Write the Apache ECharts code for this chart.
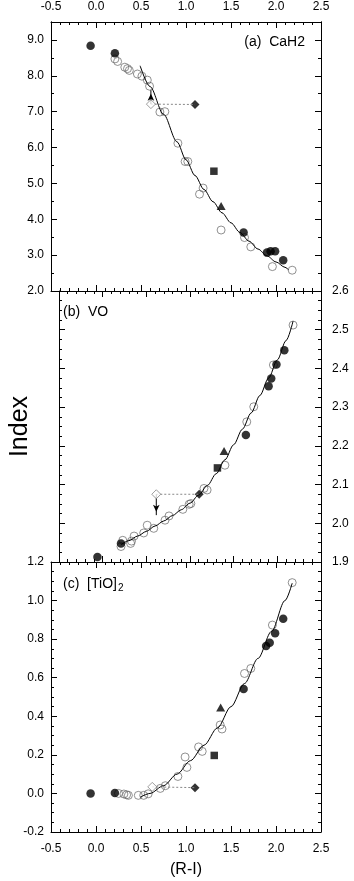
<!DOCTYPE html>
<html><head><meta charset="utf-8">
<script src="https://cdn.jsdelivr.net/npm/echarts@6/dist/echarts.min.js"></script>
<style>html,body{margin:0;padding:0;background:#fff}#c{width:354px;height:881px}</style>
</head><body><div id="c"></div>
<script>
// ---------- axis ranges / tick steps ----------
const xRange = [-0.5, 2.5];
const xStep = 0.5;
const aRange = [2.0, 9.5];
const aStep = 1.0;
const bRange = [1.9, 2.6];
const bStep = 0.1;
const cRange = [-0.2, 1.2];
const cStep = 0.2;

// ---------- panel (a) CaH2 ----------
const aFilledCircles = [[-0.06,8.84],[0.21,8.63],[1.64,3.63],[1.90,3.07],[1.94,3.11],[1.99,3.11],[2.08,2.86]];
const aOpenCircles = [[0.21,8.47],[0.24,8.40],[0.32,8.24],[0.35,8.20],[0.37,8.15],[0.46,8.05],[0.51,7.99],[0.57,7.88],[0.595,7.71],[0.71,6.99],[0.765,7.00],[0.91,6.12],[0.99,5.61],[1.02,5.61],[1.19,4.87],[1.15,4.70],[1.39,3.70],[1.65,3.49],[1.72,3.23],[1.96,2.68],[2.18,2.58]];
const aSquare = [[1.31,5.34]];
const aTriangle = [[1.39,4.37]];
const aFilledDiamond = [[1.10,7.20]];
const aOpenDiamond = [[0.61,7.21]];
const aArrowTip = [[0.61,7.60]];
const aCurve = [[0.49,8.28],[0.6,7.70],[0.75,6.93],[0.9,6.16],[1.0,5.66],[1.1,5.22],[1.2,4.83],[1.3,4.49],[1.4,4.18],[1.5,3.90],[1.6,3.63],[1.7,3.39],[1.8,3.17],[1.9,2.98],[2.0,2.81],[2.1,2.66],[2.14,2.59]];

// ---------- panel (b) VO ----------
const bFilledCircles = [[-0.06,1.913],[0.21,1.948],[1.64,2.228],[1.90,2.354],[1.93,2.374],[1.99,2.410],[2.08,2.447]];
const bOpenCircles = [[0.21,1.940],[0.23,1.956],[0.32,1.948],[0.33,1.954],[0.36,1.967],[0.47,1.975],[0.51,1.995],[0.585,1.987],[0.714,2.008],[0.76,2.019],[0.918,2.036],[0.99,2.049],[1.01,2.051],[1.16,2.090],[1.196,2.086],[1.40,2.150],[1.65,2.262],[1.73,2.301],[1.955,2.409],[2.18,2.512]];
const bSquare = [[1.314,2.143]];
const bTriangle = [[1.39,2.187]];
const bFilledDiamond = [[1.105,2.075]];
const bOpenDiamond = [[0.614,2.075]];
const bArrowTip = [[0.614,2.021]];
const bCurve = [[0.21,1.945],[0.3,1.955],[0.4,1.967],[0.5,1.979],[0.6,1.993],[0.7,2.006],[0.8,2.020],[0.9,2.035],[1.0,2.052],[1.1,2.073],[1.2,2.098],[1.3,2.128],[1.4,2.164],[1.5,2.203],[1.6,2.243],[1.7,2.285],[1.8,2.330],[1.9,2.375],[2.0,2.422],[2.1,2.472],[2.18,2.522]];

// ---------- panel (c) [TiO]2 ----------
const cFilledCircles = [[-0.06,0.000],[0.21,0.002],[1.64,0.542],[1.89,0.764],[1.93,0.781],[1.99,0.830],[2.08,0.906]];
const cOpenCircles = [[0.25,0.000],[0.31,-0.003],[0.34,-0.007],[0.36,-0.010],[0.47,-0.010],[0.53,-0.010],[0.58,-0.002],[0.714,0.026],[0.77,0.040],[0.91,0.088],[0.99,0.189],[1.01,0.135],[1.14,0.241],[1.18,0.218],[1.38,0.355],[1.40,0.334],[1.65,0.622],[1.72,0.648],[1.96,0.873],[2.18,1.093]];
const cSquare = [[1.314,0.197]];
const cTriangle = [[1.385,0.446]];
const cFilledDiamond = [[1.10,0.030]];
const cOpenDiamond = [[0.625,0.034]];
const cCurve = [[0.49,-0.020],[0.6,0.000],[0.75,0.040],[0.9,0.100],[1.05,0.170],[1.2,0.250],[1.35,0.340],[1.5,0.450],[1.65,0.570],[1.8,0.700],[1.95,0.840],[2.1,1.000],[2.18,1.090]];

// ---------- texts ----------
const panelTitles = ['(a)  CaH2', '(b)  VO', '(c)  [TiO]{sub|2}'];
const xName = '(R-I)';
const yName = 'Index';

const FONT = '"Liberation Sans", Arial, Helvetica, sans-serif';
const chart = echarts.init(document.getElementById('c'));

const grids = [
  {left:51, right:33, top:22, height:269},
  {left:51, right:33, top:291, height:271},
  {left:51, right:33, top:562, height:270}
];

const lbl = (show, margin) => ({show, margin, color:'#000', fontSize:12, fontFamily:FONT, formatter: v => (+v).toFixed(1)});
const line = {show:true, onZero:false, lineStyle:{color:'#000', width:1}};

function xAx(g, pos, showLabel, extra) {
  return Object.assign({
    type:'value', gridIndex:g, position:pos, min:xRange[0], max:xRange[1], interval:xStep,
    axisLine:line,
    axisTick:{show:true, inside:true, length:6, lineStyle:{color:'#000'}},
    minorTick:{show:true, splitNumber:5, length:3, lineStyle:{color:'#000'}},
    splitLine:{show:false}, minorSplitLine:{show:false},
    axisLabel:lbl(showLabel, pos === 'top' ? 9 : 11)
  }, extra || {});
}
function yAx(g, pos, range, step, minorSplit, showLabel, tickLen, extra) {
  return Object.assign({
    type:'value', gridIndex:g, position:pos, min:range[0], max:range[1], interval:step,
    axisLine:line,
    axisTick:{show:true, inside:true, length:tickLen, lineStyle:{color:'#000'}},
    minorTick:{show:minorSplit > 0, splitNumber:minorSplit || 2, length:3, lineStyle:{color:'#000'}},
    splitLine:{show:false}, minorSplitLine:{show:false},
    axisLabel:Object.assign(lbl(showLabel, pos === 'left' ? 7 : 11), {showMinLabel:true, showMaxLabel:true})
  }, extra || {});
}

const xAxes = [
  xAx(0,'bottom',false), xAx(0,'top',true),
  xAx(1,'bottom',false), xAx(1,'top',false),
  xAx(2,'bottom',true,{name:xName, nameLocation:'middle', nameGap:30, nameTextStyle:{fontSize:16, color:'#000', fontFamily:FONT}}),
  xAx(2,'top',false)
];
const aLabel = lbl(true, 7);
aLabel.formatter = v => (Math.abs(v - aRange[1]) < 1e-9 ? '' : (+v).toFixed(1));
const yAxes = [
  // panel a: major (1.0) and minor (0.5) ticks on each side
  yAx(0,'left',aRange,aStep,0,true,6,{axisLabel:Object.assign(aLabel,{showMinLabel:true})}),
  yAx(0,'left',aRange,aStep/2,0,false,3),
  yAx(0,'right',aRange,aStep,0,false,6),
  yAx(0,'right',aRange,aStep/2,0,false,3),
  // panel b
  yAx(1,'left',bRange,bStep,4,false,6,{name:yName, nameLocation:'middle', nameGap:26, nameRotate:90, nameTextStyle:{fontSize:25, color:'#000', fontFamily:FONT}}),
  yAx(1,'right',bRange,bStep,4,true,6),
  // panel c
  yAx(2,'left',cRange,cStep,4,true,6),
  yAx(2,'right',cRange,cStep,4,false,6)
];

const yMain = [0, 4, 6];
const series = [];
function add(g, data, cfg) {
  series.push(Object.assign({xAxisIndex:g*2, yAxisIndex:yMain[g], data, animation:false, silent:true}, cfg));
}
const filled = {type:'scatter', symbol:'circle', symbolSize:8.5, itemStyle:{color:'#000'}};
const open = {type:'scatter', symbol:'circle', symbolSize:8, itemStyle:{color:'rgba(0,0,0,0)', borderColor:'#666', borderWidth:0.9}};
const square = {type:'scatter', symbol:'rect', symbolSize:7.5, itemStyle:{color:'#000'}};
const tri = {type:'scatter', symbol:'triangle', symbolSize:[9,8], itemStyle:{color:'#000'}};
const fdia = {type:'scatter', symbol:'diamond', symbolSize:[9,9], itemStyle:{color:'#000'}};
const odia = {type:'scatter', symbol:'diamond', symbolSize:[9,9], itemStyle:{color:'#fff', borderColor:'#777', borderWidth:0.9}, z:5};
const curve = {type:'line', symbol:'none', smooth:0.3, smoothMonotone:'x', lineStyle:{color:'#000', width:1}};
const dotted = {type:'line', symbol:'none', lineStyle:{color:'#888', width:1, type:[2,2]}};

const panels = [
  {fc:aFilledCircles, oc:aOpenCircles, sq:aSquare, tr:aTriangle, fd:aFilledDiamond, od:aOpenDiamond, tip:aArrowTip, cv:aCurve},
  {fc:bFilledCircles, oc:bOpenCircles, sq:bSquare, tr:bTriangle, fd:bFilledDiamond, od:bOpenDiamond, tip:bArrowTip, cv:bCurve},
  {fc:cFilledCircles, oc:cOpenCircles, sq:cSquare, tr:cTriangle, fd:cFilledDiamond, od:cOpenDiamond, tip:null, cv:cCurve}
];
panels.forEach((p, g) => {
  add(g, p.cv, curve);
  add(g, [p.od[0], p.fd[0]], dotted);
  if (p.tip) {
    const up = p.tip[0][1] > p.od[0][1];
    add(g, [
      {value:p.od[0], symbol:'none'},
      {value:p.tip[0], symbol:'arrow', symbolSize:[5,7], symbolRotate: up ? 0 : 180, symbolOffset:[0, up ? '50%' : '-50%']}
    ], {type:'line', showSymbol:true, lineStyle:{color:'#000', width:1}, itemStyle:{color:'#000'}});
  }
  add(g, p.oc, open);
  add(g, p.fc, filled);
  add(g, p.sq, square);
  add(g, p.tr, tri);
  add(g, p.fd, fdia);
  add(g, p.od, odia);
});

const tStyle = {fontSize:14, color:'#000', fontFamily:FONT, fontWeight:'normal',
  rich:{sub:{fontSize:10, color:'#000', fontFamily:FONT, padding:[7,0,0,1]}}};
const titles = [
  {text:panelTitles[0], right:49, top:35, padding:0, textStyle:tStyle},
  {text:panelTitles[1], left:63, top:305, padding:0, textStyle:tStyle},
  {text:panelTitles[2], left:63, top:576, padding:0, textStyle:tStyle}
];

chart.setOption({
  animation:false,
  backgroundColor:'#fff',
  title:titles,
  grid:grids,
  xAxis:xAxes,
  yAxis:yAxes,
  series
});
</script></body></html>
